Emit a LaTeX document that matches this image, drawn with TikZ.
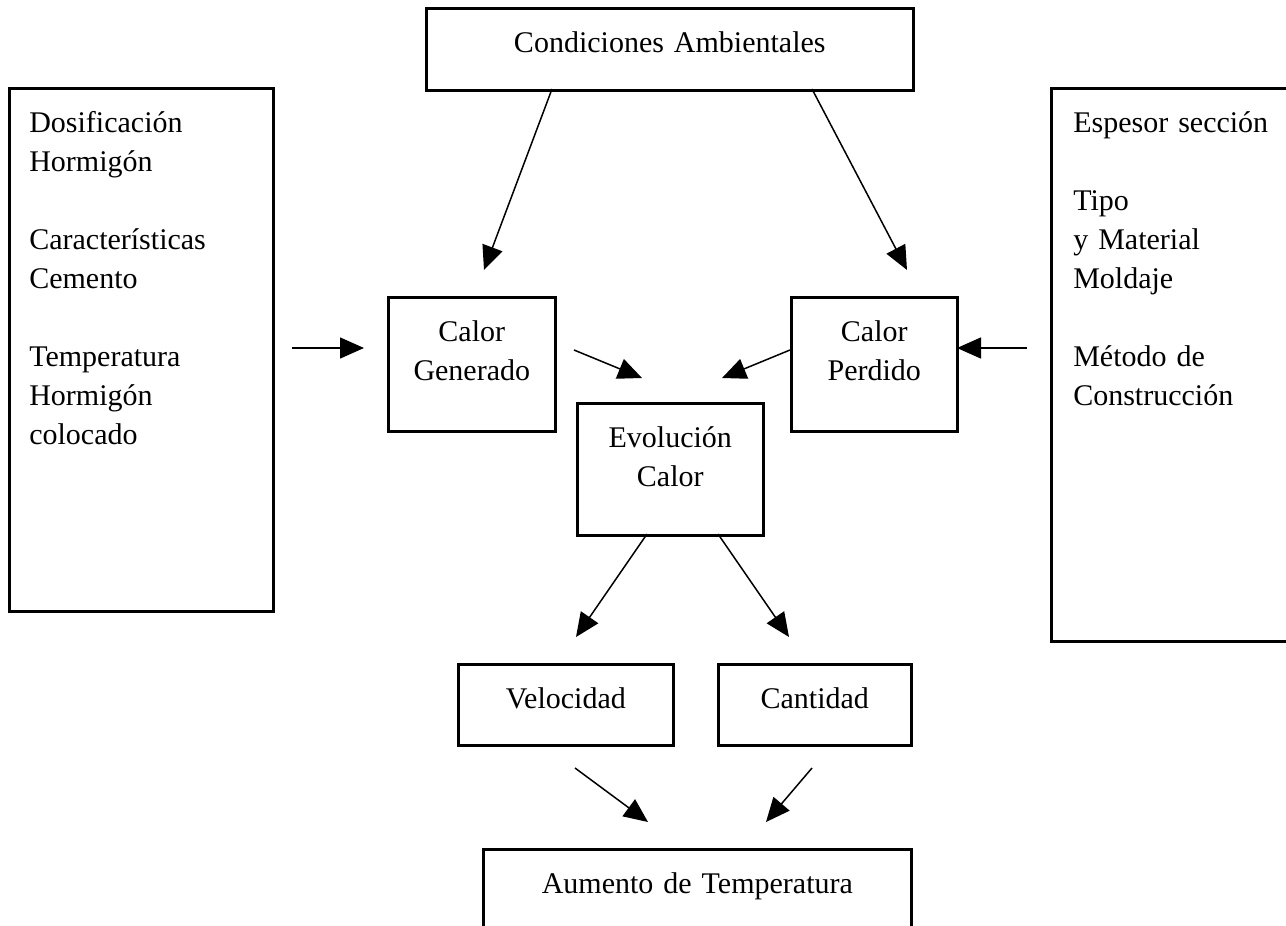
\documentclass[tikz,border=0pt]{standalone}
\usepackage{fontspec}
\setmainfont{Liberation Serif}
\usetikzlibrary{arrows.meta}

\newcommand{\cajafont}{\fontsize{15}{19.5}\selectfont\spaceskip=\fontdimen2\font\relax}

\tikzset{
    caja/.style 2 args={draw, line width=1.3pt, anchor=north west,
        inner xsep=0pt, inner ysep=0pt, text width=#1,
        text height=22pt, text depth=#2, align=center,
        font=\cajafont},
    lista/.style={align=left, inner xsep=10pt},
    flecha/.style={-{Triangle[length=12pt,width=10.5pt]}, line width=0.75pt}
}

\begin{document}
\begin{tikzpicture}[x=0.5pt, y=-0.5pt]

                %----- FRAME -----
                \useasboundingbox (0,0) rectangle (1286,926);
                \clip (0,0) rectangle (1286,926);

                %----- BOXES -----
                \node[caja={243.5pt}{19pt}] (cond) at (425,7) {Condiciones Ambientales};

                \node[caja={112pt}{239.5pt}, lista] (dos) at (8,87)
                    {Dosificación\\Hormigón\\[19.5pt]Características\\Cemento\\[19.5pt]Temperatura\\Hormigón\\colocado};
                \node[caja={110pt}{254.5pt}, lista, inner xsep=11pt] (esp) at (1050,87)
                    {Espesor sección\\[19.5pt]Tipo\\y Material\\Moldaje\\[19.5pt]Método de\\Construcción};

                \node[caja={83.5pt}{45pt}] (gen) at (387,296) {Calor\\Generado};
                \node[caja={83pt}{45pt}]   (per) at (790,296) {Calor\\Perdido};
                \node[caja={93pt}{44pt}]   (evo) at (576,402) {Evolución\\Calor};

                \node[caja={107.5pt}{18.5pt}] (vel) at (457,663) {Velocidad};
                \node[caja={96.5pt}{18.5pt}]  (can) at (717,663) {Cantidad};

                \node[caja={214pt}{23pt}] (aum) at (482,848) {Aumento de Temperatura};

                %----- ARROW ENDS (arrows stop short of the boxes) -----
                \coordinate (condL)  at (552,89);
                \coordinate (condR)  at (812,89);
                \coordinate (genTop) at (484,270);
                \coordinate (perTop) at (907,270);
                \coordinate (dosOut) at (292,348);
                \coordinate (genIn)  at (364,348);
                \coordinate (espOut) at (1027,348);
                \coordinate (perIn)  at (957,348);
                \coordinate (genOut) at (574,350);
                \coordinate (perOut) at (790,350);
                \coordinate (evoInL) at (642,378);
                \coordinate (evoInR) at (722,378);
                \coordinate (evoL)   at (647,534);
                \coordinate (evoR)   at (718,534);
                \coordinate (velTop) at (576,637);
                \coordinate (canTop) at (789,637);
                \coordinate (velOut) at (575,768);
                \coordinate (canOut) at (812,768);
                \coordinate (aumInL) at (648,822);
                \coordinate (aumInR) at (766,822);

                %----- ARROWS -----
                \foreach \a/\b in {condL/genTop, condR/perTop, dosOut/genIn, espOut/perIn,
                                   genOut/evoInL, perOut/evoInR, evoL/velTop, evoR/canTop,
                                   velOut/aumInL, canOut/aumInR}
                    \draw[flecha] (\a) -- (\b);

\end{tikzpicture}
\end{document}
